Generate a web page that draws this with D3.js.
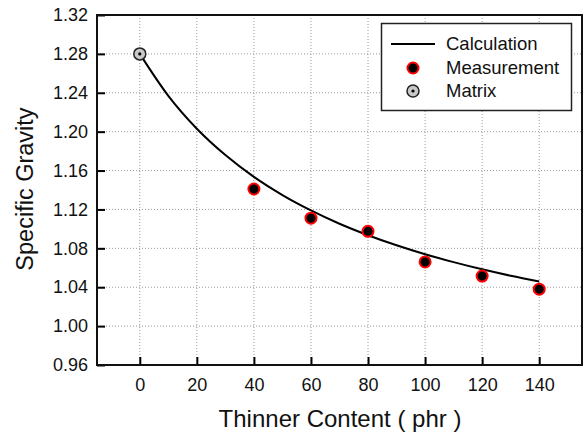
<!DOCTYPE html>
<html><head><meta charset="utf-8">
<script src="https://cdn.jsdelivr.net/npm/d3@7"></script>
<style>body{margin:0;background:#fff}svg{display:block}text{font-family:"Liberation Sans",Arial,sans-serif}</style>
</head><body>
<script>
const xTicks = [0,20,40,60,80,100,120,140];
const yTicks = [0.96,1.00,1.04,1.08,1.12,1.16,1.20,1.24,1.28,1.32];
const calcX = [0,10,20,30,40,50,60,70,80,90,100,110,120,130,140];
const calcY = [1.28,1.2368,1.2030,1.1759,1.1535,1.1348,1.1190,1.1053,1.0935,1.0831,1.0739,1.0658,1.0584,1.0518,1.0459];
const measX = [40,60,80,100,120,140];
const measY = [1.141,1.111,1.0975,1.066,1.0515,1.038];
const matrixX = [0];
const matrixY = [1.28];
const legendLabels = ["Calculation","Measurement","Matrix"];

const W=583,H=437;
const m={l:97,t:15,r:582,b:365};
const svg=d3.select("body").append("svg").attr("width",W).attr("height",H);
const x=d3.scaleLinear().domain([-15,155]).range([m.l,m.r]);
const y=d3.scaleLinear().domain([0.96,1.32]).range([m.b,m.t]);

// grid
const g=svg.append("g");
g.selectAll(".gx").data(xTicks).join("line")
 .attr("x1",d=>x(d)).attr("x2",d=>x(d)).attr("y1",m.t).attr("y2",m.b)
 .attr("stroke","#999").attr("stroke-width",1).attr("stroke-dasharray","1,2");
g.selectAll(".gy").data(yTicks.filter(d=>d>0.96&&d<1.32)).join("line")
 .attr("y1",d=>y(d)).attr("y2",d=>y(d)).attr("x1",m.l).attr("x2",m.r)
 .attr("stroke","#999").attr("stroke-width",1).attr("stroke-dasharray","1,2");

// axes
const xa=svg.append("g").attr("transform",`translate(0,${m.b})`)
 .call(d3.axisBottom(x).tickValues(xTicks).tickSizeInner(-8).tickSizeOuter(0).tickPadding(13).tickFormat(d3.format("d")));
const ya=svg.append("g").attr("transform",`translate(${m.l},0)`)
 .call(d3.axisLeft(y).tickValues(yTicks).tickSizeInner(-8).tickSizeOuter(0).tickPadding(9).tickFormat(d3.format(".2f")));
[xa,ya].forEach(a=>{a.select(".domain").remove();a.selectAll("line").attr("stroke","#000").attr("stroke-width",2);
 a.selectAll("text").attr("font-size",18).attr("fill","#111").style("font-family","Liberation Sans, Arial, sans-serif");});
xa.selectAll("text").attr("dy","0.71em");

// frame
svg.append("rect").attr("x",m.l).attr("y",m.t).attr("width",m.r-m.l).attr("height",m.b-m.t)
 .attr("fill","none").attr("stroke","#111").attr("stroke-width",2);

// curve
const pts=calcX.map((d,i)=>[d,calcY[i]]);
svg.append("path").datum(pts)
 .attr("d",d3.line().x(d=>x(d[0])).y(d=>y(d[1])).curve(d3.curveMonotoneX))
 .attr("fill","none").attr("stroke","#000").attr("stroke-width",2);

// measurements
svg.selectAll(".meas").data(measX.map((d,i)=>[d,measY[i]])).join("circle")
 .attr("cx",d=>x(d[0])).attr("cy",d=>y(d[1])).attr("r",5.5)
 .attr("fill","#000").attr("stroke","#f00").attr("stroke-width",2);

// matrix
const mx=matrixX.map((d,i)=>[d,matrixY[i]]);
svg.selectAll(".mat").data(mx).join("circle")
 .attr("cx",d=>x(d[0])).attr("cy",d=>y(d[1])).attr("r",6)
 .attr("fill","#c8c8c8").attr("stroke","#222").attr("stroke-width",1.5);
svg.selectAll(".matd").data(mx).join("circle")
 .attr("cx",d=>x(d[0])).attr("cy",d=>y(d[1])).attr("r",1.6).attr("fill","#000");

// legend
const L=svg.append("g");
L.append("rect").attr("x",381.5).attr("y",23.5).attr("width",190).attr("height",87)
 .attr("fill","#fff").attr("stroke","#222").attr("stroke-width",1.5);
const rows=[44,68,91];
L.append("line").attr("x1",391).attr("x2",435).attr("y1",rows[0]).attr("y2",rows[0]).attr("stroke","#000").attr("stroke-width",2);
L.append("circle").attr("cx",413).attr("cy",rows[1]).attr("r",5.5).attr("fill","#000").attr("stroke","#f00").attr("stroke-width",2);
L.append("circle").attr("cx",413).attr("cy",rows[2]).attr("r",6).attr("fill","#c8c8c8").attr("stroke","#222").attr("stroke-width",1.5);
L.append("circle").attr("cx",413).attr("cy",rows[2]).attr("r",1.6).attr("fill","#000");
L.selectAll(".lt").data(legendLabels).join("text")
 .attr("x",446).attr("y",(d,i)=>rows[i]).attr("dy","0.35em").attr("font-size",18.5).attr("fill","#111").text(d=>d);

// titles
svg.append("text").attr("x",340).attr("y",427).attr("text-anchor","middle").attr("font-size",24).attr("fill","#111").text("Thinner Content ( phr )");
svg.append("text").attr("transform","translate(33,189) rotate(-90)").attr("text-anchor","middle").attr("font-size",23.5).attr("fill","#111").text("Specific Gravity");
</script>
</body></html>
